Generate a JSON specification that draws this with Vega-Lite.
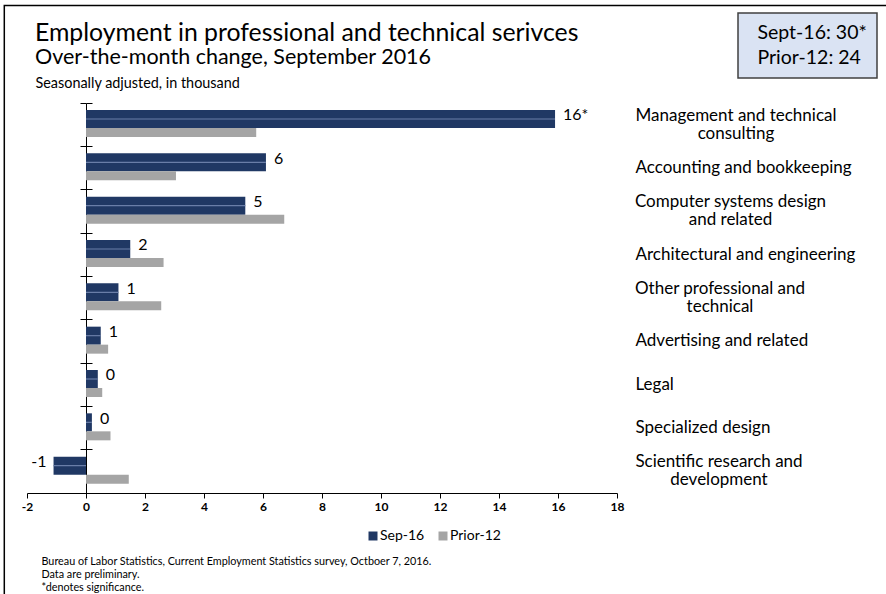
{
  "$schema": "https://vega.github.io/schema/vega-lite/v6.json",
  "width": 590,
  "height": 390,
  "autosize": "none",
  "padding": {"left": 27, "top": 103, "right": 269, "bottom": 101},
  "background": "white",
  "config": {"font": "Lato", "view": {"stroke": null}, "legend": {"strokeWidth": 1.5}},
  "title": {
    "text": "Employment in professional and technical serivces",
    "subtitle": "Over-the-month change, September 2016",
    "anchor": "start",
    "frame": "group",
    "dx": 8,
    "fontSize": 24.8,
    "fontWeight": "normal",
    "color": "black",
    "subtitleFontSize": 21.5,
    "subtitleColor": "black",
    "subtitlePadding": 1.5,
    "offset": -63.6
  },
  "data": {
    "values": [
      {"category": "Management and technical consulting", "series": "Sep-16", "value": 15.9, "label": "16*"},
      {"category": "Management and technical consulting", "series": "Prior-12", "value": 5.77},
      {"category": "Accounting and bookkeeping", "series": "Sep-16", "value": 6.1, "label": "6"},
      {"category": "Accounting and bookkeeping", "series": "Prior-12", "value": 3.05},
      {"category": "Computer systems design and related", "series": "Sep-16", "value": 5.4, "label": "5"},
      {"category": "Computer systems design and related", "series": "Prior-12", "value": 6.72},
      {"category": "Architectural and engineering", "series": "Sep-16", "value": 1.5, "label": "2"},
      {"category": "Architectural and engineering", "series": "Prior-12", "value": 2.63},
      {"category": "Other professional and technical", "series": "Sep-16", "value": 1.1, "label": "1"},
      {"category": "Other professional and technical", "series": "Prior-12", "value": 2.55},
      {"category": "Advertising and related", "series": "Sep-16", "value": 0.5, "label": "1"},
      {"category": "Advertising and related", "series": "Prior-12", "value": 0.75},
      {"category": "Legal", "series": "Sep-16", "value": 0.4, "label": "0"},
      {"category": "Legal", "series": "Prior-12", "value": 0.55},
      {"category": "Specialized design", "series": "Sep-16", "value": 0.2, "label": "0"},
      {"category": "Specialized design", "series": "Prior-12", "value": 0.83},
      {"category": "Scientific research and development", "series": "Sep-16", "value": -1.1, "label": "-1"},
      {"category": "Scientific research and development", "series": "Prior-12", "value": 1.45}
    ]
  },
  "encoding": {
    "x": {
      "field": "value",
      "type": "quantitative",
      "scale": {"domain": [-2, 18], "nice": false, "zero": false},
      "axis": {
        "values": [-2, 0, 2, 4, 6, 8, 10, 12, 14, 16, 18],
        "labelExpr": "'' + datum.value",
        "grid": false,
        "domainColor": "black",
        "tickColor": "black",
        "tickSize": 5,
        "labelFontWeight": "bold",
        "labelFontSize": 12,
        "labelColor": "black",
        "labelPadding": 3,
        "labelFlush": false,
        "title": ["Bureau of Labor Statistics, Current Employment Statistics survey, Octboer 7, 2016.", "Data are preliminary.", "*denotes significance."],
        "titleAlign": "left",
        "titleAngle": 0,
        "titleX": 14,
        "titleY": 71,
        "titleBaseline": "alphabetic",
        "titleFontSize": 10.8,
        "titleFontWeight": "normal",
        "titleColor": "black",
        "titleLineHeight": 13
      }
    }
  },
  "layer": [
    {
      "transform": [{"filter": "datum.series == 'Sep-16'"}],
      "mark": {"type": "bar", "height": 18, "yOffset": -5.67, "strokeWidth": 0},
      "encoding": {
        "y": {
          "field": "category", "type": "nominal", "sort": null,
          "scale": {"paddingInner": 0, "paddingOuter": 0},
          "axis": {
            "orient": "left", "offset": -59, "domain": true, "domainColor": "black", "ticks": true, "tickColor": "black", "tickSize": 6, "bandPosition": 0, "labels": false, "grid": false,
            "title": "Seasonally adjusted, in thousand", "titleAngle": 0, "titleAlign": "left", "titleBaseline": "alphabetic", "titleX": -51, "titleY": -16, "titleFontSize": 14.4, "titleFontWeight": "normal", "titleColor": "black"
          }
        },
        "fill": {
          "field": "series", "type": "nominal",
          "scale": {"domain": ["Sep-16", "Prior-12"], "range": ["#203864", "#a5a5a5"]},
          "legend": {"orient": "none", "legendX": 339, "legendY": 426, "direction": "horizontal", "title": null, "symbolType": "square", "symbolSize": 81, "symbolStrokeWidth": 0, "labelFontSize": 14, "labelColor": "black", "labelOffset": 0, "columnPadding": 11, "padding": 0}
        },
        "stroke": {
          "field": "series", "type": "nominal",
          "legend": {"orient": "none", "legendX": 711, "legendY": -90, "direction": "vertical", "title": null, "values": ["Sep-16", "Prior-12"], "labelExpr": "datum.value == 'Sep-16' ? 'Sept-16: 30*  ' : 'Prior-12: 24  '", "labelFontSize": 19.5, "labelColor": "black", "fillColor": "#dae3f3", "strokeColor": "#404040", "padding": 10, "symbolSize": 25, "symbolOpacity": 0, "symbolStrokeWidth": 0, "symbolType": "square", "labelOffset": -10, "rowPadding": 4.5}
        }
      }
    },
    {
      "transform": [{"filter": "datum.series == 'Prior-12'"}],
      "mark": {"type": "bar", "height": 9, "yOffset": 7.83, "strokeWidth": 0},
      "encoding": {
        "y": {
          "field": "category", "type": "nominal", "sort": null,
          "axis": {"orient": "right", "offset": -531, "domain": false, "ticks": true, "tickColor": "black", "tickSize": 6, "bandPosition": 0, "labels": false, "title": null, "grid": false}
        },
        "fill": {"field": "series", "type": "nominal"},
        "stroke": {"field": "series", "type": "nominal"},
        "strokeDash": {
          "field": "series", "type": "nominal",
          "scale": {"domain": ["Prior-12", "Sep-16"]},
          "legend": {"orient": "none", "legendX": -22.7, "legendY": -97.5, "title": null, "values": ["Sep-16"], "labelExpr": "''", "labelOpacity": 0, "symbolOpacity": 0, "symbolSize": 1, "strokeColor": "black", "padding": 460}
        }
      }
    },
    {
      "transform": [{"filter": "datum.series == 'Sep-16'"}],
      "mark": {"type": "bar", "height": 1.2, "yOffset": -5.67, "fill": "#6a7ea8"},
      "encoding": {
        "y": {
          "field": "category", "type": "nominal", "sort": null,
          "axis": {
            "orient": "right", "domain": false, "ticks": false, "tickSize": 0, "grid": false, "title": null,
            "labelFontSize": 17, "labelColor": "black", "labelBaseline": "middle", "labelLineHeight": 18,
            "labelLimit": 300, "labelOverlap": false, "labelBound": false,
            "labelExpr": "datum.value == 'Management and technical consulting' ? ['Management and technical', 'consulting'] : datum.value == 'Computer systems design and related' ? ['Computer systems design', 'and related'] : datum.value == 'Other professional and technical' ? ['Other professional and', 'technical'] : datum.value == 'Scientific research and development' ? ['Scientific research and', 'development'] : datum.label",
            "labelAlign": {"condition": {"test": "indexof(['Management and technical consulting', 'Computer systems design and related', 'Other professional and technical', 'Scientific research and development'], datum.value) >= 0", "value": "center"}, "value": "left"},
            "labelOffset": {"condition": {"test": "indexof(['Management and technical consulting', 'Computer systems design and related', 'Other professional and technical', 'Scientific research and development'], datum.value) >= 0", "value": -9}, "value": 0},
            "labelPadding": {"condition": [
              {"test": "datum.value == 'Management and technical consulting'", "value": 118.5},
              {"test": "datum.value == 'Computer systems design and related'", "value": 113},
              {"test": "datum.value == 'Other professional and technical'", "value": 102.5},
              {"test": "datum.value == 'Scientific research and development'", "value": 101.5}
            ], "value": 18}
          }
        }
      }
    },
    {
      "transform": [{"filter": "datum.series == 'Sep-16' && datum.value >= 0"}],
      "mark": {"type": "text", "align": "left", "baseline": "middle", "dx": 8, "yOffset": -9.5, "fontSize": 16, "color": "black"},
      "encoding": {
        "y": {"field": "category", "type": "nominal", "sort": null, "axis": null},
        "text": {"field": "label"}
      }
    },
    {
      "transform": [{"filter": "datum.series == 'Sep-16' && datum.value < 0"}],
      "mark": {"type": "text", "align": "right", "baseline": "middle", "dx": -7, "yOffset": -9.5, "fontSize": 16, "color": "black"},
      "encoding": {
        "y": {"field": "category", "type": "nominal", "sort": null, "axis": null},
        "text": {"field": "label"}
      }
    }
  ],
  "resolve": {"axis": {"y": "independent"}}
}
